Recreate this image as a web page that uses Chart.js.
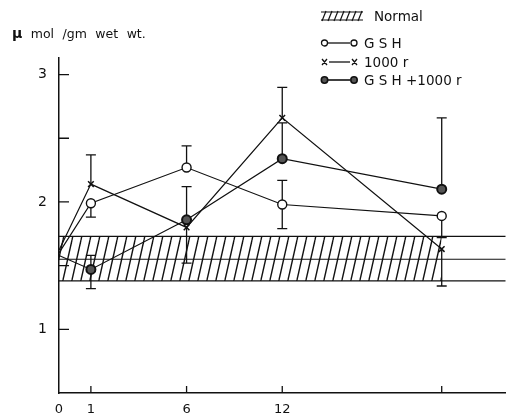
<!DOCTYPE html>
<html>
<head>
<title>GSH / 1000 r</title>
<script src="https://cdn.jsdelivr.net/npm/chart.js"></script>
<style>
  body { margin: 0; background: #fff; font-family: "DejaVu Sans", sans-serif; color: #111; overflow: hidden; }
  .wrap { position: relative; width: 512px; height: 420px; }
  .unit { position: absolute; left: 12px; top: 25px; font-size: 12.5px; word-spacing: 4.5px; }
  .unit b { font-size: 14px; }
  .row { position: absolute; left: 320px; height: 18px; display: flex; align-items: center; font-size: 13.5px; }
  .row svg { margin-right: 4px; }
</style>
</head>
<body>
<div class="wrap">
  <canvas id="chart"></canvas>
  <div class="unit"><b>μ</b> mol /gm wet wt.</div>
  <div class="row" style="top:7px">
    <svg width="44" height="12"><g stroke="#111" stroke-width="1.2">
      <line x1="2" y1="11" x2="6" y2="1"/><line x1="8" y1="11" x2="12" y2="1"/><line x1="14" y1="11" x2="18" y2="1"/>
      <line x1="20" y1="11" x2="24" y2="1"/><line x1="26" y1="11" x2="30" y2="1"/><line x1="32" y1="11" x2="36" y2="1"/>
      <line x1="38" y1="11" x2="42" y2="1"/><line x1="1" y1="10" x2="43" y2="10"/><line x1="1" y1="2" x2="43" y2="2"/></g></svg>
    <span style="margin-left:6px">Normal</span>
  </div>
  <div class="row" style="top:34px">
    <svg width="40" height="12"><g stroke="#111" stroke-width="1.3" fill="#fff">
      <line x1="8" y1="6" x2="30" y2="6"/><circle cx="4.5" cy="6" r="3"/><circle cx="34" cy="6" r="3"/></g></svg>
    <span>G S H</span>
  </div>
  <div class="row" style="top:53px">
    <svg width="40" height="12"><g stroke="#111" stroke-width="1.3">
      <line x1="9" y1="6" x2="30" y2="6"/><path d="M2 3 L7 9 M7 3 L2 9 M32 3 L37 9 M37 3 L32 9"/></g></svg>
    <span>1000 r</span>
  </div>
  <div class="row" style="top:71px">
    <svg width="40" height="12"><g stroke="#111" stroke-width="1.6" fill="#555">
      <line x1="8" y1="6" x2="30" y2="6"/><circle cx="4.5" cy="6" r="3.2"/><circle cx="34" cy="6" r="3.2"/></g></svg>
    <span>G S H +1000 r</span>
  </div>
</div>

<script>
  // hours after treatment; blank labels only keep the broken axis spacing
  const timeLabels = ['0', '1', '', '', '6', '', '', '12', '', '', '', '', '', '', ''];

  // series values (μ mol / gm wet wt.)
  const gsh     = [1.60, 1.99, null, null, 2.27, null, null, 1.98, null, null, null, null, 1.89, null, null];
  const rad1000 = [1.62, 2.14, null, null, 1.80, null, null, 2.66, null, null, null, null, 1.63, null, null];
  const gshRad  = [1.58, 1.47, null, null, 1.86, null, null, 2.34, null, null, null, null, 2.10, null, null];

  // error bars (one sided as drawn in the figure)
  const gshErrUp      = [null, null, null, null, 0.17, null, null, 0.19, null, null, null, null, null, null, null];
  const gshErrDown    = [null, 0.11, null, null, null, null, null, 0.19, null, null, null, null, 0.17, null, null];
  const radErrUp      = [null, 0.23, null, null, null, null, null, 0.24, null, null, null, null, null, null, null];
  const radErrDown    = [null, null, null, null, 0.28, null, null, null, null, null, null, null, 0.29, null, null];
  const gshRadErrUp   = [null, 0.11, null, null, 0.26, null, null, 0.28, null, null, null, null, 0.56, null, null];
  const gshRadErrDown = [null, 0.15, null, null, null, null, null, null, null, null, null, null, null, null, null];

  // normal range
  const normalMean = 1.55;
  const normalLow = 1.38;
  const normalHigh = 1.73;
  const hatchEnd = 12; // hatched band stops at last sampling time

  const ink = '#111';

  function hatchPattern() {
    const c = document.createElement('canvas');
    c.width = 9; c.height = 40;
    const g = c.getContext('2d');
    g.strokeStyle = ink;
    g.lineWidth = 1.4;
    [-9, 0, 9].forEach(o => {
      g.beginPath(); g.moveTo(o, 40); g.lineTo(o + 9, 0); g.stroke();
    });
    return g.createPattern(c, 'repeat');
  }

  const bandLine = v => timeLabels.map(() => v);
  const bandPart = v => timeLabels.map((_, i) => i <= hatchEnd ? v : null);

  const hideFirst = r => ctx => ctx.dataIndex === 0 ? 0 : r;

  // error bars
  const errorBars = {
    id: 'errorBars',
    beforeDatasetsDraw(chart) {
      const { ctx, scales: { x, y } } = chart;
      ctx.save();
      ctx.strokeStyle = ink;
      ctx.lineWidth = 1.3;
      chart.data.datasets.forEach(ds => {
        if (!ds.errUp) return;
        ds.data.forEach((v, i) => {
          if (v === null) return;
          const px = x.getPixelForValue(i);
          [[ds.errUp[i], 1], [ds.errDown[i], -1]].forEach(([e, s]) => {
            if (!e) return;
            const py0 = y.getPixelForValue(v);
            const py1 = y.getPixelForValue(v + s * e);
            ctx.beginPath();
            ctx.moveTo(px, py0); ctx.lineTo(px, py1);
            ctx.moveTo(px - 5, py1); ctx.lineTo(px + 5, py1);
            ctx.stroke();
          });
        });
      });
      ctx.restore();
    }
  };

  // tick marks pointing into the plot
  const innerTicks = {
    id: 'innerTicks',
    afterDraw(chart) {
      const { ctx, scales: { x, y } } = chart;
      ctx.save();
      ctx.strokeStyle = ink;
      ctx.lineWidth = 1.3;
      ctx.beginPath();
      y.ticks.forEach(t => {
        if (t.value <= y.min) return;
        const py = y.getPixelForValue(t.value);
        ctx.moveTo(y.right, py); ctx.lineTo(y.right + 10, py);
      });
      gsh.forEach((v, i) => {
        if (v === null || i === 0) return;
        const px = x.getPixelForValue(i);
        ctx.moveTo(px, x.top); ctx.lineTo(px, x.top - 7);
      });
      ctx.stroke();
      ctx.restore();
    }
  };

  new Chart(document.getElementById('chart'), {
    type: 'line',
    data: {
      labels: timeLabels,
      datasets: [
        {
          label: 'G S H', data: gsh, errUp: gshErrUp, errDown: gshErrDown,
          borderColor: ink, borderWidth: 1.2, spanGaps: true, tension: 0,
          pointStyle: 'circle', pointRadius: hideFirst(4.5),
          pointBackgroundColor: '#fff', pointBorderColor: ink, pointBorderWidth: 1.4
        },
        {
          label: '1000 r', data: rad1000, errUp: radErrUp, errDown: radErrDown,
          borderColor: ink, borderWidth: 1.2, spanGaps: true, tension: 0,
          pointStyle: 'crossRot', pointRadius: hideFirst(4),
          pointBorderColor: ink, pointBorderWidth: 1.5
        },
        {
          label: 'G S H +1000 r', data: gshRad, errUp: gshRadErrUp, errDown: gshRadErrDown,
          borderColor: ink, borderWidth: 1.2, spanGaps: true, tension: 0,
          pointStyle: 'circle', pointRadius: hideFirst(4.5),
          pointBackgroundColor: '#555', pointBorderColor: ink, pointBorderWidth: 2
        },
        { label: 'high', data: bandLine(normalHigh), borderColor: ink, borderWidth: 1.2, pointRadius: 0 },
        { label: 'mean', data: bandLine(normalMean), borderColor: ink, borderWidth: 1.2, pointRadius: 0 },
        { label: 'low', data: bandLine(normalLow), borderColor: ink, borderWidth: 1.2, pointRadius: 0 },
        {
          label: 'Normal', data: bandPart(normalHigh), borderWidth: 0, pointRadius: 0,
          fill: '+1', backgroundColor: hatchPattern()
        },
        { label: 'hatchLow', data: bandPart(normalLow), borderWidth: 0, pointRadius: 0 }
      ]
    },
    options: {
      responsive: true,
      maintainAspectRatio: false,
      animation: false,
      layout: { padding: { top: 58, right: 2, left: 0, bottom: 0 } },
      plugins: { legend: { display: false }, tooltip: { enabled: false } },
      scales: {
        x: {
          grid: { display: false, drawTicks: false },
          border: { display: true, color: ink, width: 1.5 },
          ticks: { autoSkip: false, maxRotation: 0, padding: 9, color: ink,
                   font: { family: 'DejaVu Sans', size: 13 } },
          afterFit: s => { s.height = 27; s.paddingRight = 0; }
        },
        y: {
          min: 0.5, max: 3.13,
          grid: { display: false, drawTicks: false },
          border: { display: true, color: ink, width: 1.5 },
          ticks: {
            stepSize: 0.5, includeBounds: false, padding: 12, color: ink,
            font: { family: 'DejaVu Sans', size: 14 },
            callback: v => Number.isInteger(v) && v > 0 ? v : ''
          },
          afterFit: s => { s.width = 59; }
        }
      }
    },
    plugins: [errorBars, innerTicks]
  });
</script>
</body>
</html>
